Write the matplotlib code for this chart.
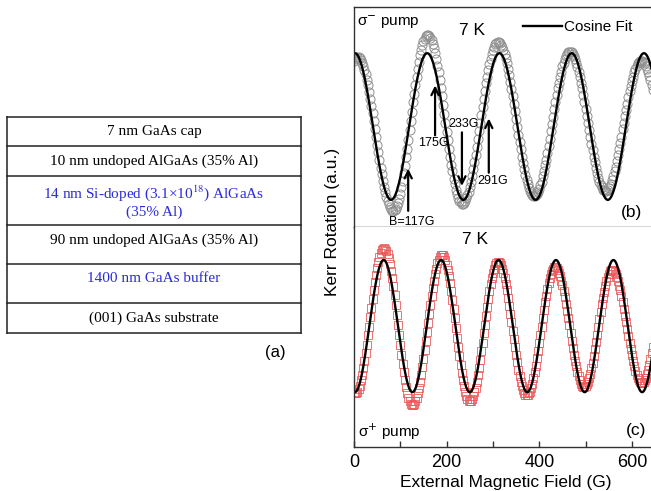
import numpy as np
import matplotlib
matplotlib.use('Agg')
import matplotlib.pyplot as plt
from matplotlib.ticker import MultipleLocator

plt.rcParams['font.family'] = ['Liberation Sans', 'DejaVu Sans']

BLUE = '#2b2bd9'

# sample layer stack (top to bottom)
layers = ['7 nm GaAs cap',
          '10 nm undoped AlGaAs (35% Al)',
          '14 nm Si-doped (3.1×10$^{18}$) AlGaAs\n(35% Al)',
          '90 nm undoped AlGaAs (35% Al)',
          '1400 nm GaAs buffer',
          '(001) GaAs substrate']
layer_colors = ['black', 'black', BLUE, 'black', BLUE, 'black']

# Kerr rotation (a.u.) read every 2.5 G starting at 0 G
field_step = 2.5
kerr_minus = [
    0.89, 0.92, 0.94, 0.95, 0.95, 0.93, 0.91, 0.87, 0.83, 0.77,
    0.71, 0.64, 0.56, 0.47, 0.38, 0.28, 0.18, 0.07, -0.04, -0.14,
    -0.25, -0.35, -0.46, -0.56, -0.65, -0.74, -0.82, -0.89, -0.96, -1.02,
    -1.06, -1.10, -1.13, -1.15, -1.15, -1.14, -1.12, -1.09, -1.04, -0.99,
    -0.92, -0.83, -0.74, -0.64, -0.54, -0.42, -0.30, -0.18, -0.05, 0.08,
    0.20, 0.33, 0.45, 0.57, 0.68, 0.78, 0.88, 0.97, 1.04, 1.11,
    1.16, 1.20, 1.23, 1.25, 1.25, 1.24, 1.21, 1.18, 1.13, 1.07,
    1.00, 0.92, 0.83, 0.74, 0.63, 0.52, 0.41, 0.29, 0.17, 0.05,
    -0.07, -0.19, -0.30, -0.41, -0.52, -0.61, -0.71, -0.79, -0.86, -0.92,
    -0.97, -1.01, -1.03, -1.05, -1.05, -1.04, -1.02, -0.98, -0.94, -0.89,
    -0.82, -0.75, -0.67, -0.58, -0.49, -0.39, -0.28, -0.17, -0.06, 0.05,
    0.16, 0.27, 0.38, 0.49, 0.59, 0.68, 0.77, 0.85, 0.92, 0.99,
    1.04, 1.08, 1.12, 1.14, 1.15, 1.15, 1.14, 1.11, 1.08, 1.04,
    0.99, 0.93, 0.86, 0.78, 0.70, 0.61, 0.51, 0.41, 0.31, 0.21,
    0.10, -0.01, -0.11, -0.21, -0.31, -0.41, -0.50, -0.58, -0.66, -0.73,
    -0.79, -0.84, -0.88, -0.91, -0.94, -0.95, -0.95, -0.94, -0.92, -0.89,
    -0.85, -0.80, -0.75, -0.68, -0.61, -0.53, -0.45, -0.36, -0.26, -0.17,
    -0.06, 0.04, 0.13, 0.24, 0.33, 0.43, 0.52, 0.60, 0.68, 0.75,
    0.82, 0.87, 0.92, 0.96, 0.99, 1.01, 1.02, 1.02, 1.01, 0.99,
    0.96, 0.92, 0.87, 0.81, 0.75, 0.68, 0.60, 0.52, 0.43, 0.34,
    0.24, 0.15, 0.05, -0.05, -0.14, -0.24, -0.32, -0.41, -0.49, -0.57,
    -0.64, -0.70, -0.75, -0.80, -0.83, -0.86, -0.87, -0.88, -0.88, -0.87,
    -0.84, -0.81, -0.78, -0.73, -0.67, -0.61, -0.55, -0.47, -0.39, -0.31,
    -0.22, -0.14, -0.04, 0.05, 0.14, 0.23, 0.31, 0.40, 0.48, 0.55,
    0.62, 0.68, 0.74, 0.79, 0.83, 0.86, 0.88, 0.90, 0.90, 0.90,
    0.88, 0.86, 0.83, 0.79, 0.75, 0.69, 0.63, 0.57, 0.50]
kerr_plus = [
    -1.01, -1.02, -1.01, -0.99, -0.95, -0.90, -0.82, -0.74, -0.64, -0.53,
    -0.40, -0.28, -0.14, -0.01, 0.14, 0.28, 0.41, 0.54, 0.66, 0.78,
    0.88, 0.97, 1.04, 1.10, 1.15, 1.17, 1.18, 1.17, 1.14, 1.09,
    1.03, 0.94, 0.84, 0.73, 0.60, 0.47, 0.32, 0.17, 0.02, -0.13,
    -0.28, -0.43, -0.57, -0.70, -0.82, -0.92, -1.01, -1.09, -1.14, -1.18,
    -1.20, -1.20, -1.18, -1.14, -1.09, -1.02, -0.94, -0.85, -0.74, -0.62,
    -0.50, -0.36, -0.23, -0.09, 0.05, 0.19, 0.32, 0.45, 0.57, 0.68,
    0.79, 0.87, 0.95, 1.00, 1.05, 1.07, 1.08, 1.07, 1.04, 1.00,
    0.93, 0.85, 0.76, 0.65, 0.53, 0.40, 0.26, 0.12, -0.03, -0.18,
    -0.32, -0.46, -0.59, -0.71, -0.82, -0.91, -0.99, -1.06, -1.10, -1.13,
    -1.14, -1.13, -1.11, -1.06, -1.00, -0.93, -0.84, -0.74, -0.63, -0.51,
    -0.38, -0.25, -0.11, 0.02, 0.16, 0.29, 0.41, 0.53, 0.63, 0.73,
    0.80, 0.87, 0.92, 0.95, 0.97, 0.97, 0.95, 0.92, 0.87, 0.80,
    0.73, 0.64, 0.54, 0.43, 0.31, 0.19, 0.06, -0.07, -0.19, -0.32,
    -0.44, -0.55, -0.66, -0.75, -0.84, -0.91, -0.97, -1.01, -1.04, -1.05,
    -1.05, -1.02, -0.99, -0.94, -0.87, -0.79, -0.70, -0.60, -0.49, -0.38,
    -0.25, -0.13, -0.01, 0.12, 0.24, 0.36, 0.46, 0.56, 0.65, 0.73,
    0.79, 0.84, 0.87, 0.89, 0.89, 0.88, 0.85, 0.81, 0.76, 0.69,
    0.62, 0.53, 0.44, 0.34, 0.23, 0.12, 0.01, -0.11, -0.22, -0.33,
    -0.43, -0.53, -0.61, -0.69, -0.76, -0.82, -0.87, -0.90, -0.92, -0.92,
    -0.91, -0.88, -0.84, -0.79, -0.72, -0.64, -0.56, -0.46, -0.35, -0.24,
    -0.13, -0.01, 0.10, 0.22, 0.33, 0.43, 0.52, 0.61, 0.68, 0.74,
    0.79, 0.83, 0.85, 0.85, 0.84, 0.82, 0.79, 0.74, 0.68, 0.61,
    0.54, 0.45, 0.36, 0.26, 0.16, 0.06, -0.05, -0.15, -0.25, -0.35,
    -0.44, -0.53, -0.61, -0.68, -0.74, -0.79, -0.82, -0.85, -0.86, -0.86,
    -0.84, -0.82, -0.78, -0.72, -0.66, -0.59, -0.50, -0.41, -0.32]

# cosine fit parameters (period and peak position in G)
fit_minus_period, fit_minus_peak = 156, 2
fit_plus_period, fit_plus_peak = 124, 64

arrow_fields = [117, 175, 233, 291]
arrow_labels = ['B=117G', '175G', '233G', '291G']

B_MAX = 644

field_minus = np.arange(len(kerr_minus)) * field_step
field_plus = np.arange(len(kerr_plus)) * field_step
b_fit = np.linspace(0, B_MAX, 800)
fit_minus = np.cos(2 * np.pi * (b_fit - fit_minus_peak) / fit_minus_period)
fit_plus = np.cos(2 * np.pi * (b_fit - fit_plus_peak) / fit_plus_period)

W, H = 651, 491
fig = plt.figure(figsize=(W / 100, H / 100), dpi=100)

# ---- (a) layer table, drawn in pixel coordinates
tab = fig.add_axes([0, 0, 1, 1])
tab.set_xlim(0, W)
tab.set_ylim(H, 0)
tab.axis('off')
row_edges = [117, 146, 176, 225, 264, 303, 333]
text_y = [131, 161, 201, 240, 279, 318]
for yy in row_edges:
    tab.plot([7, 301], [yy, yy], color='#222222', lw=1.1)
tab.plot([7, 7], [117, 333], color='#222222', lw=1.1)
tab.plot([301, 301], [117, 333], color='#222222', lw=1.1)
for name, c, yy in zip(layers, layer_colors, text_y):
    tab.text(154, yy, name, color=c, fontsize=11, ha='center', va='center',
             family='Liberation Serif', math_fontfamily='stix', linespacing=1.2)
tab.text(275, 353, '(a)', fontsize=12, ha='center', va='center')

# ---- (b) sigma- pump
left = 354 / W
ax1 = fig.add_axes([left, 1 - 227 / H, 1 - left + 0.002, 220 / H])
ax1.plot(field_minus, kerr_minus, 'o', ms=6.5, mfc='none', mec='#8f8f8f', mew=0.7)
ax1.plot(b_fit, fit_minus, color='black', lw=1.7, label='Cosine Fit')
ax1.set_xlim(0, B_MAX)
ax1.set_ylim(-1.37, 1.63)
ax1.set_xticks([])
ax1.set_yticks([])
ax1.spines['right'].set_visible(False)
for s in ['top', 'left', 'bottom']:
    ax1.spines[s].set_color('#333333')
    ax1.spines[s].set_linewidth(1.0)
ax1.legend(loc='upper right', bbox_to_anchor=(0.958, 0.975), frameon=False,
           handlelength=2.6, handletextpad=0.1, borderpad=0, fontsize=11)
ax1.text(0.01, 0.93, 'σ$^{-}$ pump', transform=ax1.transAxes, fontsize=11,
         ha='left', va='center', math_fontfamily='dejavusans')
ax1.text(0.395, 0.895, '7 K', transform=ax1.transAxes, fontsize=12.5,
         ha='center', va='center')
ax1.text(0.93, 0.064, '(b)', transform=ax1.transAxes, fontsize=12.5,
         ha='center', va='center')

arrow_tails = [-1.15, -0.12, -0.08, -0.63]
arrow_tips = [-0.575, 0.56, -0.81, 0.11]
label_pos = [(124, -1.30), (172, -0.22), (237, 0.04), (300, -0.74)]
for bf, y0, y1 in zip(arrow_fields, arrow_tails, arrow_tips):
    ax1.annotate('', xy=(bf, y1), xytext=(bf, y0),
                 arrowprops=dict(arrowstyle='->', lw=1.6, color='black',
                                 mutation_scale=13, shrinkA=0, shrinkB=0))
for lab, (lx, ly) in zip(arrow_labels, label_pos):
    ax1.text(lx, ly, lab, fontsize=9, ha='center', va='center')

# ---- (c) sigma+ pump
ax2 = fig.add_axes([left, 1 - 447 / H, 1 - left + 0.002, 220 / H])
ax2.plot(field_plus, kerr_plus, 's', ms=5.5, mfc='none', mec='#ea5a5a', mew=0.7,
         alpha=0.85)
ax2.plot(b_fit, fit_plus, color='black', lw=1.7)
ax2.set_xlim(0, B_MAX)
ax2.set_ylim(-1.83, 1.50)
ax2.set_yticks([])
ax2.xaxis.set_major_locator(MultipleLocator(200))
ax2.xaxis.set_minor_locator(MultipleLocator(100))
ax2.tick_params(axis='x', which='both', direction='in', length=4, width=1,
                labelsize=13, pad=5, color='#333333')
ax2.spines['right'].set_visible(False)
ax2.spines['top'].set_visible(False)
for s in ['left', 'bottom']:
    ax2.spines[s].set_color('#333333')
    ax2.spines[s].set_linewidth(1.0)
ax2.text(0.407, 0.941, '7 K', transform=ax2.transAxes, fontsize=12.5,
         ha='center', va='center')
ax2.text(0.013, 0.068, 'σ$^{+}$ pump', transform=ax2.transAxes, fontsize=11,
         ha='left', va='center', math_fontfamily='dejavusans')
ax2.text(0.946, 0.077, '(c)', transform=ax2.transAxes, fontsize=12.5,
         ha='center', va='center')

fig.text(333 / W, 1 - 222 / H, 'Kerr Rotation (a.u.)', rotation=90, fontsize=12.5,
         ha='center', va='center')
fig.text(506 / W, 1 - 483 / H, 'External Magnetic Field (G)', fontsize=12.5,
         ha='center', va='center')

fig.savefig('out.png', dpi=100)
